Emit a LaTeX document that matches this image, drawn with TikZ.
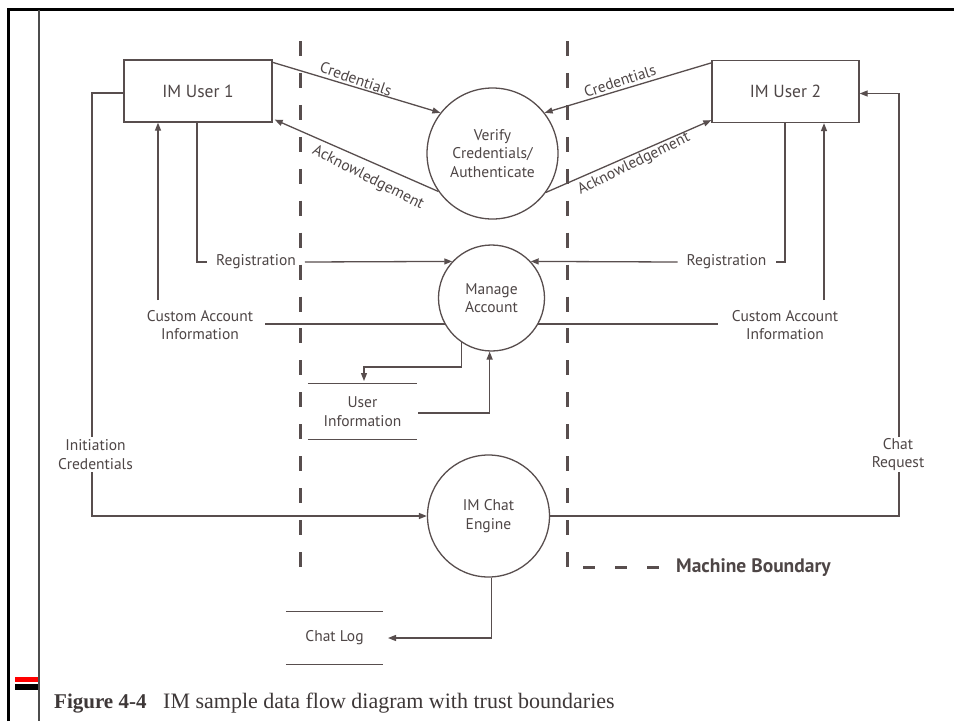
\documentclass[tikz,border=0pt]{standalone}
\usepackage{fontspec}
\setmainfont{PT Sans}
\newfontfamily\capfont{Liberation Serif}
\usetikzlibrary{arrows.meta,calc}
\definecolor{ink}{RGB}{88,78,78}
\definecolor{txt}{RGB}{78,70,70}
\definecolor{capink}{RGB}{62,56,56}
\begin{document}
\begin{tikzpicture}[x=1pt,y=-1pt,
  flow/.style={draw=ink, line width=1.3pt},
  arr/.style={flow, -{Triangle[length=8pt,width=6pt]}},
  entity/.style={draw=ink, line width=1.3pt, minimum height=62pt,
    font=\fontsize{17.5}{20}\selectfont, text=txt},
  proc/.style={circle, draw=ink, line width=1.3pt, inner sep=0pt,
    font=\fontsize{15.5}{18.5}\selectfont, text=txt, align=center},
  lbl/.style={text=txt, font=\fontsize{15.5}{18.5}\selectfont, align=center, inner sep=1pt},
  trust/.style={draw=ink, line width=3pt, dash pattern=on 15pt off 16.94pt},
  storeline/.style={draw=ink, line width=1.3pt}
]
\useasboundingbox (0,0) rectangle (954,721);
\fill[white] (0,0) rectangle (954,721);

% page frame and margin marks
\draw[black, line width=3pt] (8.5,721) -- (8.5,9.5) -- (954,9.5);
\draw[black!70, line width=1.8pt] (39,10) -- (39,721);
\fill[red] (15,676.5) rectangle (38,681.5);
\fill[black] (15,684) rectangle (38,689.5);

% trust boundaries
\draw[trust] (300,41) -- (300,567);
\draw[trust] (567,41) -- (567,567);

% external entities
\node[entity, minimum width=148pt] (u1) at (198,91) {IM User 1};
\node[entity, minimum width=147pt] (u2) at (785.5,91.5) {IM User 2};

% processes
\node[proc, minimum size=131pt] (verify) at (492.5,153.5) {Verify\\Credentials/\\Authenticate};
\node[proc, minimum size=106pt] (ma) at (491.5,298) {Manage\\Account};
\node[proc, minimum size=122pt] (ce) at (488.5,516) {IM Chat\\Engine};

% data stores
\node[lbl, minimum width=109pt, minimum height=55pt] (ui) at (362.5,411.5) {User\\Information};
\draw[storeline] (ui.north west) -- (ui.north east);
\draw[storeline] (ui.south west) -- (ui.south east);
\node[lbl, minimum width=97pt, minimum height=52pt] (cl) at (334.5,638) {Chat Log};
\draw[storeline] (cl.north west) -- (cl.north east);
\draw[storeline] (cl.south west) -- (cl.south east);

% authentication flows
\draw[arr] ($(u1.north east)+(0,3)$) -- (verify.142);
\draw[arr] (verify.215) -- ($(u1.south east)+(2,-3)$);
\draw[arr] ($(u2.north west)+(0,3)$) -- (verify.38);
\draw[arr] (verify.-36) -- ($(u2.south west)+(0,-3)$);
\node[lbl, rotate=-19] (cred1) at (356,79) {Credentials};
\node[lbl, rotate=-27] (ack1) at (368,178) {Acknowledgement};
\node[lbl, rotate=18] (cred2) at (620,81) {Credentials};
\node[lbl, rotate=26] (ack2) at (634,164) {Acknowledgement};

% registration
\node[lbl, inner xsep=9pt] (reg1) at (256,262) {Registration};
\draw[flow] ($(u1.south)+(-1,0)$) |- (reg1.west);
\draw[arr] (reg1.east) -- (ma.137);
\node[lbl, inner xsep=9pt] (reg2) at (726.5,262) {Registration};
\draw[flow] ($(u2.south)+(-0.5,0)$) |- (reg2.east);
\draw[arr] (reg2.west) -- (ma.43);

% custom account information
\node[lbl] (cai1) at (200,325) {Custom Account\\Information};
\coordinate (cai1up) at (158,300);
\coordinate (cai1end) at (265,0);
\draw[flow] (ma.209) -- (ma.209 -| cai1end);
\draw[arr] (cai1up) -- (cai1up |- u1.south);
\node[lbl] (cai2) at (785,325) {Custom Account\\Information};
\coordinate (cai2up) at (824,300);
\coordinate (cai2end) at (718,0);
\draw[flow] (ma.-29) -- (ma.-29 -| cai2end);
\draw[arr] (cai2up) -- (cai2up |- u2.south);

% user information store
\coordinate (uiIn) at (364,381);
\coordinate (uiOut) at (418,413);
\draw[arr] (ma.236) |- ($(uiIn)+(0,-14)$) -- (uiIn);
\draw[arr] (uiOut) -| (ma.268);

% chat initiation
\node[lbl] (ic) at (95.5,454.5) {Initiation\\Credentials};
\coordinate (icTop) at (92,437);
\coordinate (icBot) at (92,472);
\draw[flow] ($(u1.west)+(0,2)$) -| (icTop);
\draw[arr] (icBot) |- (ce.west);

% chat request
\node[lbl] (cr) at (898,454.5) {Chat\\Request};
\coordinate (crTop) at (899,437);
\coordinate (crBot) at (899,472);
\draw[flow] (ce.east) -| (crBot);
\draw[arr] (crTop) |- ($(u2.east)+(0,2)$);

% chat log
\coordinate (clIn) at (388,638);
\draw[arr] (ce.273) |- (clIn);

% legend
\coordinate (lgA) at (583,567);
\coordinate (lgB) at (660,567);
\draw[draw=ink, line width=3pt, dash pattern=on 12pt off 20pt] (lgA) -- (lgB);
\node[anchor=west, text=txt, font=\fontsize{19.5}{22}\bfseries, inner sep=0pt] (legend) at (676,568) {Machine Boundary};

% caption
\node[anchor=base west, inner sep=0pt, text=capink, font=\capfont\fontsize{21}{24}\selectfont\bfseries] (fig) at (54,708) {Figure 4-4};
\node[anchor=base west, inner sep=0pt, text=capink, font=\capfont\fontsize{22}{25}\selectfont] (cap) at (163,708) {IM sample data flow diagram with trust boundaries};
\end{tikzpicture}
\end{document}
